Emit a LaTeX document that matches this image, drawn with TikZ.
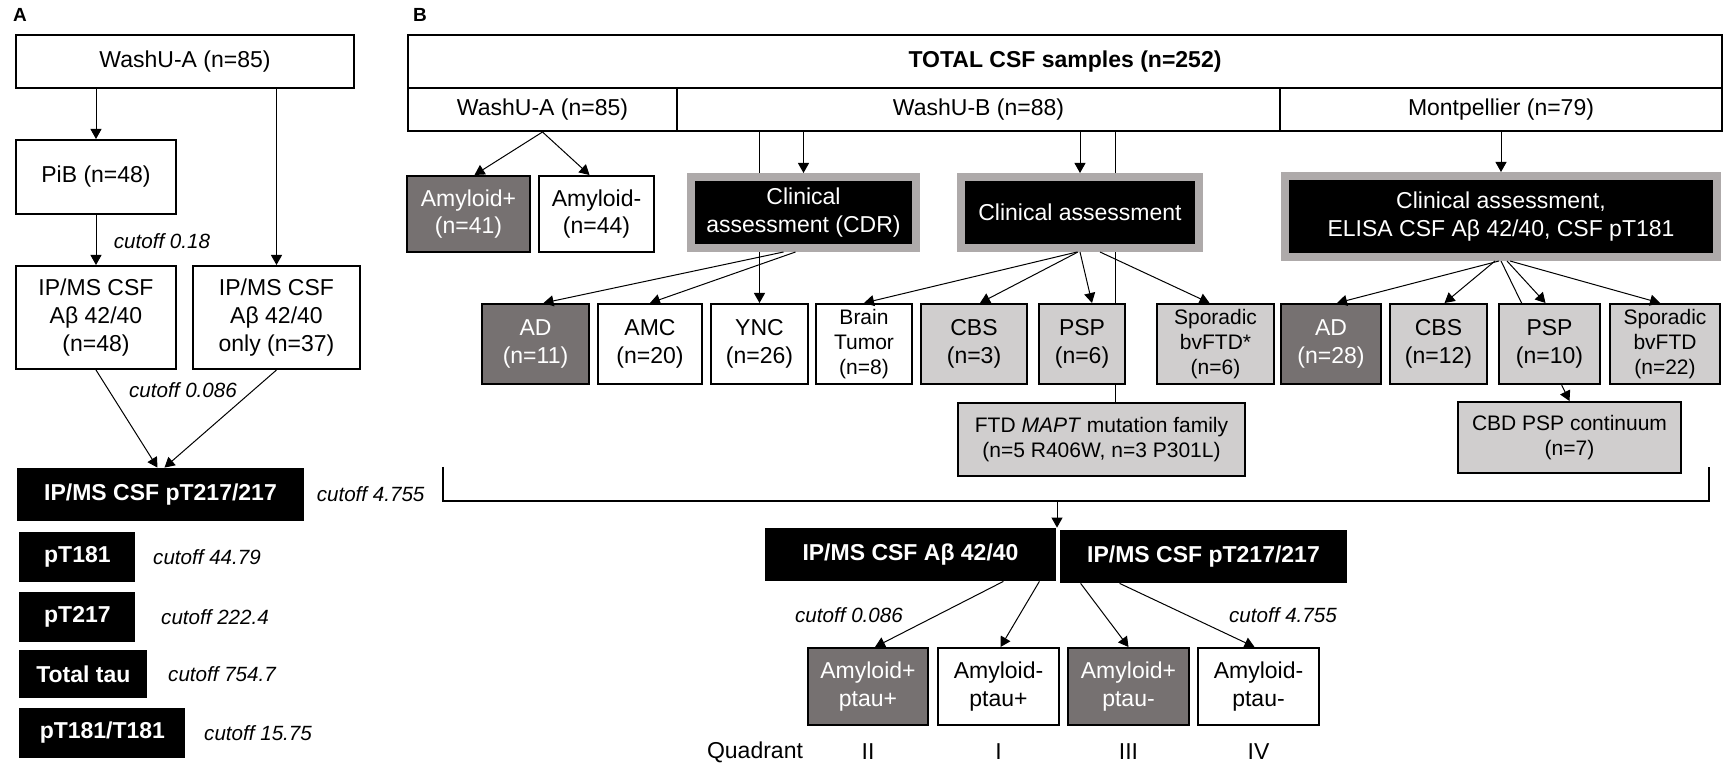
\documentclass[tikz,border=0pt]{standalone}
\usepackage{fontspec}
\setmainfont{Liberation Sans}
\usepackage{tikz}
\definecolor{boxdark}{HTML}{767171}
\definecolor{boxlight}{HTML}{D0CECE}
\definecolor{boxframe}{HTML}{AEAAAA}
\newcommand{\fsmain}{\fontsize{11.5}{13.8}\selectfont}
\newcommand{\fssmall}{\fontsize{10.5}{12.3}\selectfont}
\newcommand{\fscut}{\fontsize{10.3}{12}\selectfont\itshape}
\newcommand{\fslabel}{\fontsize{9.5}{11}\selectfont\bfseries}
\tikzset{
    wbox/.style={draw, fill=white, line width=1pt, align=center, inner sep=2pt},
    lbox/.style={wbox, fill=boxlight},
    dbox/.style={wbox, fill=boxdark, text=white},
    bbox/.style={fill=black, text=white, font=\fsmain\bfseries, inner sep=2pt},
    cbox/.style={draw=boxframe, line width=4pt, fill=black, text=white, align=center},
    cutoff/.style={font=\fscut, inner sep=0pt},
    arr/.style={-{Triangle[length=5pt, width=5.5pt]}, line width=0.5pt},
    link/.style={line width=0.5pt},
    frameline/.style={line width=0.75pt} }
\usetikzlibrary{arrows.meta, positioning, calc, backgrounds}

\begin{document}
\begin{tikzpicture}[x=0.5pt, y=-0.5pt, font=\fsmain]
      \useasboundingbox (0,0) rectangle (1724,764);
      % ---- panel A
      \node[font=\fslabel] (labA) at (20,15) {A};
      \node[wbox, minimum width=169pt, minimum height=26.5pt] (srcA) at (185,61.5) {WashU-A (n=85)};
      \node[wbox, minimum width=80pt, minimum height=37pt] (pib) at (96,177) {PiB (n=48)};
      \node[wbox, minimum width=80pt, minimum height=51.5pt] (abPib) at (96,317.5) {IP/MS CSF\\Aβ 42/40\\(n=48)};
      \node[wbox, minimum width=83.5pt, minimum height=51.5pt, right=7.5pt of abPib] (abOnly) {IP/MS CSF\\Aβ 42/40\\only (n=37)};
      \node[bbox, minimum width=143.5pt, minimum height=26.5pt] (ptA) at (160.5,494.5) {IP/MS CSF pT217/217};
      \node[bbox, anchor=west, minimum width=58pt, minimum height=25pt] (p181) at (19,557) {pT181};
      \node[bbox, anchor=west, minimum width=58pt, minimum height=25pt] (p217) at (19,617) {pT217};
      \node[bbox, anchor=west, minimum width=64pt, minimum height=24pt] (ttau) at (19,674) {Total tau};
      \node[bbox, anchor=west, minimum width=83pt, minimum height=25pt] (ratio) at (19,733) {pT181/T181};
      \node[cutoff] (cutPib) at (162,241) {cutoff 0.18};
      \node[cutoff] (cutAbA) at (183,390) {cutoff 0.086};
      \node[cutoff, right=6pt of ptA] (cutPtA) {cutoff 4.755};
      \node[cutoff, right=8.5pt of p181] (cut181) {cutoff 44.79};
      \node[cutoff, right=12.5pt of p217] (cut217) {cutoff 222.4};
      \node[cutoff, right=10pt of ttau] (cutTau) {cutoff 754.7};
      \node[cutoff, right=9pt of ratio] (cutRatio) {cutoff 15.75};
      \draw[arr] (srcA.south -| pib) -- (pib);
      \draw[arr] (srcA.south -| abOnly) -- (abOnly);
      \draw[arr] (pib) -- (abPib);
      \draw[arr] (abPib.south) -- ([xshift=-1.5pt]ptA.north);
      \draw[arr] (abOnly.south) -- ([xshift=2pt]ptA.north);
      % ---- panel B, cohorts
      \node[font=\fslabel] (labB) at (420,15) {B};
      \node[wbox, font=\fsmain\bfseries, minimum width=657pt, minimum height=26.5pt] (total) at (1065,61.5) {TOTAL CSF samples (n=252)};
      \node[wbox, minimum width=134.5pt, minimum height=21.5pt] (srcWA) at (542.5,109.5) {WashU-A (n=85)};
      \node[wbox, minimum width=301.5pt, minimum height=21.5pt] (srcWB) at (978.5,109.5) {WashU-B (n=88)};
      \node[wbox, minimum width=221pt, minimum height=21.5pt] (srcMp) at (1501,109.5) {Montpellier (n=79)};
      % ---- assessment
      \node[dbox, minimum width=61.5pt, minimum height=38pt] (amyP) at (468.5,214) {Amyloid+\\(n=41)};
      \node[wbox, minimum width=57.5pt, minimum height=38pt, right=3.5pt of amyP] (amyN) {Amyloid-\\(n=44)};
      \node[cbox, minimum width=112.5pt, minimum height=35.5pt] (cdr) at (803.5,212.5) {Clinical\\assessment (CDR)};
      \node[cbox, minimum width=119pt, minimum height=35.5pt] (clinB) at (1080,212.5) {Clinical assessment};
      \node[cbox, minimum width=216pt, minimum height=40.5pt] (clinM) at (1501,216.5) {Clinical assessment,\\ELISA CSF Aβ 42/40, CSF pT181};
      % ---- diagnoses
      \node[dbox, minimum width=53.5pt, minimum height=40pt] (adB) at (535.5,344) {AD\\(n=11)};
      \node[wbox, minimum width=52pt, minimum height=40pt, right=3.5pt of adB] (amc) {AMC\\(n=20)};
      \node[wbox, minimum width=48.5pt, minimum height=40pt, right=3.5pt of amc] (ync) {YNC\\(n=26)};
      \node[wbox, font=\fssmall, minimum width=48pt, minimum height=40pt, right=3pt of ync] (tumor) {Brain\\Tumor\\(n=8)};
      \node[lbox, minimum width=53pt, minimum height=40pt, right=3.5pt of tumor] (cbsB) {CBS\\(n=3)};
      \node[lbox, minimum width=43pt, minimum height=40pt, right=5pt of cbsB] (pspB) {PSP\\(n=6)};
      \node[lbox, font=\fssmall, minimum width=58.5pt, minimum height=40pt, right=15pt of pspB] (bvB) {Sporadic\\bvFTD*\\(n=6)};
      \node[dbox, minimum width=50pt, minimum height=40pt, right=2.5pt of bvB] (adM) {AD\\(n=28)};
      \node[lbox, minimum width=48.5pt, minimum height=40pt, right=3.5pt of adM] (cbsM) {CBS\\(n=12)};
      \node[lbox, minimum width=50.5pt, minimum height=40pt, right=5pt of cbsM] (pspM) {PSP\\(n=10)};
      \node[lbox, font=\fssmall, minimum width=55pt, minimum height=40pt, right=4pt of pspM] (bvM) {Sporadic\\bvFTD\\(n=22)};
      \node[lbox, font=\fssmall, minimum width=143.5pt, minimum height=36.5pt] (mapt) at (1101.5,439.5) {FTD \textit{MAPT} mutation family\\(n=5 R406W, n=3 P301L)};
      \node[lbox, font=\fssmall, minimum width=111.5pt, minimum height=35.5pt] (cbd) at (1569.5,437.5) {CBD PSP continuum\\(n=7)};
      \coordinate (maptIn) at ([xshift=7pt]mapt.north);
      % ---- lines running behind the boxes
      \begin{scope}[on background layer]
      \draw[arr] (ync.north |- srcWB.south) -- (ync.north);
      \draw[link] (maptIn |- srcWB.south) -- (maptIn);
      \draw[arr] (clinM.south) -- (cbd.north);
      \end{scope}
      \draw[arr] (srcWA.south) -- ([xshift=3pt]amyP.north);
      \draw[arr] (srcWA.south) -- ([xshift=-3.5pt]amyN.north);
      \draw[arr] (cdr.north |- srcWB.south) -- (cdr.north);
      \draw[arr] (clinB.north |- srcWB.south) -- (clinB.north);
      \draw[arr] (clinM.north |- srcMp.south) -- (clinM.north);
      \draw[arr] ([xshift=-10pt]cdr.south) -- ([xshift=4pt]adB.north);
      \draw[arr] ([xshift=-4pt]cdr.south) -- (amc.north);
      \draw[arr] ([xshift=-1.5pt]clinB.south) -- (tumor.north);
      \draw[arr] ([xshift=-1pt]clinB.south) -- ([xshift=3pt]cbsB.north);
      \draw[arr] (clinB.south) -- ([xshift=5pt]pspB.north);
      \draw[arr] ([xshift=10pt]clinB.south) -- ([xshift=-3pt]bvB.north);
      \draw[arr] ([xshift=-1pt]clinM.south) -- ([xshift=3pt]adM.north);
      \draw[arr] ([xshift=-3pt]clinM.south) -- ([xshift=3pt]cbsM.north);
      \draw[arr] ([xshift=3pt]clinM.south) -- ([xshift=-2pt]pspM.north);
      \draw[arr] ([xshift=4.5pt]clinM.south) -- ([xshift=-2.5pt]bvM.north);
      % ---- pooled samples
      \coordinate (brkL) at (443,467);
      \coordinate (brkR) at (1709,467);
      \coordinate (brkM) at (1057,501);
      \draw[frameline] (brkL) |- (brkR |- brkM) -- (brkR);
      \node[bbox, minimum width=145.5pt, minimum height=26.5pt] (abB) at (910.5,554.5) {IP/MS CSF Aβ 42/40};
      \node[bbox, minimum width=143.5pt, minimum height=26.5pt] (ptB) at (1203.5,556.5) {IP/MS CSF pT217/217};
      \draw[arr] (brkM) -- (brkM |- abB.north);
      \node[dbox, minimum width=60pt, minimum height=38.5pt] (q2) at (868,686.5) {Amyloid+\\ptau+};
      \node[wbox, minimum width=60.5pt, minimum height=38.5pt, right=4pt of q2] (q1) {Amyloid-\\ptau+};
      \node[dbox, minimum width=60.5pt, minimum height=38.5pt, right=3.5pt of q1] (q3) {Amyloid+\\ptau-};
      \node[wbox, minimum width=60.5pt, minimum height=38.5pt, right=3.5pt of q3] (q4) {Amyloid-\\ptau-};
      \draw[arr] ([xshift=-26.5pt]abB.south east) -- ([xshift=3.5pt]q2.north);
      \draw[arr] ([xshift=-8.5pt]abB.south east) -- ([xshift=1pt]q1.north);
      \draw[arr] ([xshift=10.5pt]ptB.south west) -- (q3.north);
      \draw[arr] ([xshift=30pt]ptB.south west) -- ([xshift=-2pt]q4.north);
      \node[cutoff] (cutAbB) at (849,615) {cutoff 0.086};
      \node[cutoff] (cutPtB) at (1283,615) {cutoff 4.755};
      % ---- quadrants
      \node (quad) at (755,752) {Quadrant};
      \node (qII) at (q2 |- quad) {II};
      \node (qI) at (q1 |- quad) {I};
      \node (qIII) at (q3 |- quad) {III};
      \node (qIV) at (q4 |- quad) {IV};
\end{tikzpicture}
\end{document}
